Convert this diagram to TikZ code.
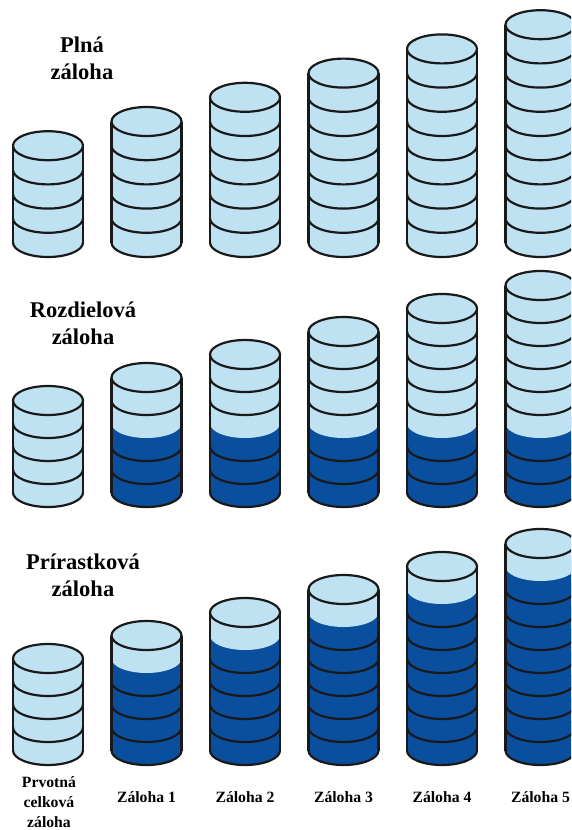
\documentclass[tikz,border=0pt]{standalone}
\usepackage{fontspec}
\setmainfont{Liberation Serif}
\usetikzlibrary{positioning}

\definecolor{svetla}{RGB}{190,226,241}
\definecolor{tmava}{RGB}{10,78,158}

% #1 x stredu, #2 y spodnej podstavy, #3 pocet diskov, #4 pocet tmavych, #5 vyska disku
\newcommand{\diskstack}[5]{%
  \foreach \i in {1,...,#3}{%
    \pgfmathsetmacro{\yb}{#2-(\i-1)*#5}%
    \pgfmathsetmacro{\yt}{\yb-#5}%
    \ifnum\i>#4 \def\fillc{svetla}\else\def\fillc{tmava}\fi
    \fill[\fillc] (#1-35,\yb) arc (180:0:35 and 14.5) -- (#1+35,\yt) arc (0:-180:35 and 14.5) -- cycle;
    \ifnum\i=1
      \draw[disk] (#1-35,\yb) arc (180:0:35 and 14.5);
    \else\ifnum\i=\numexpr#4+1\relax\else
      \draw[disk] (#1-35,\yb) arc (180:0:35 and 14.5);
    \fi\fi
  }%
  \draw[disk] (#1-35,#2) -- (#1-35,#2-#3*#5);
  \draw[disk] (#1+35,#2) -- (#1+35,#2-#3*#5);
  \draw[disk,fill=svetla] (#1,#2-#3*#5) ellipse (35 and 14.5);
}

\begin{document}
\begin{tikzpicture}[x=1pt,y=-1pt,
    disk/.style={line width=2.2pt,line join=round,draw=black!90},
    nadpis/.style={font=\fontsize{22.5}{27}\selectfont\bfseries,align=center,inner sep=0pt},
    popis/.style={font=\fontsize{15.7}{20}\selectfont\bfseries,align=center,inner sep=0pt}]
  \clip (0,0) rectangle (571,830);
  \fill[white] (0,0) rectangle (571,830);

  % plna zaloha
  \foreach \x/\n in {48/4,146.5/5,245/6,343.5/7,442/8,540.5/9}
    \diskstack{\x}{242.5}{\n}{0}{24.2};
  % rozdielova zaloha
  \foreach \x/\n/\d in {48/4/0,146.5/5/3,245/6/3,343.5/7/3,442/8/3,540.5/9/3}
    \diskstack{\x}{492.5}{\n}{\d}{23};
  % prirastkova zaloha
  \foreach \x/\n/\d in {48/4/0,146.5/5/4,245/6/5,343.5/7/6,442/8/7,540.5/9/8}
    \diskstack{\x}{750.5}{\n}{\d}{23};

  \node[nadpis] (plna) at (82,58) {Plná\\záloha};
  \node[nadpis] (rozdiel) at (83,323) {Rozdielová\\záloha};
  \node[nadpis] (prirast) at (83,575) {Prírastková\\záloha};

  \node[popis] (prvotna) at (49,802) {Prvotná\\celková\\záloha};
  \foreach \x [count=\k] in {146.5,245,343.5,442,540.5}
    \node[popis] (zal\k) at (\x,797) {Záloha \k};
\end{tikzpicture}
\end{document}
